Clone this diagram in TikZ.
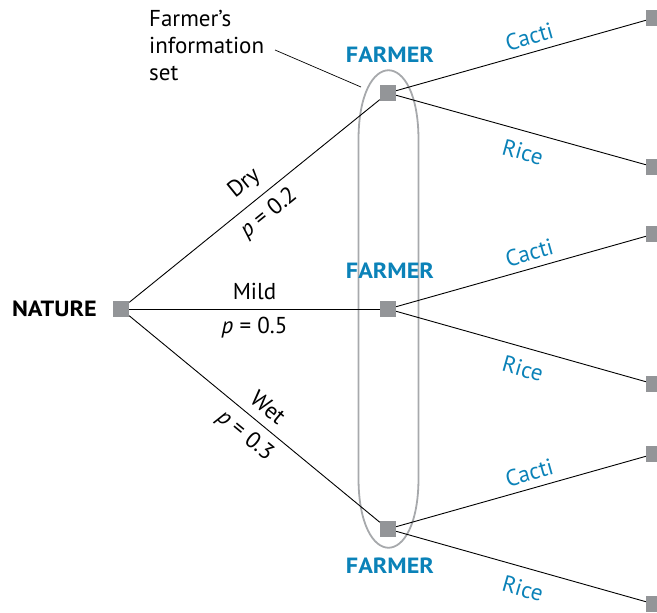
\documentclass[tikz,border=0pt]{standalone}
\usepackage{fontspec}
\setmainfont{PT Sans}
\newfontfamily\widesans{PT Sans}[FakeStretch=1.1]
\definecolor{fblue}{RGB}{11,130,184}
\definecolor{boxgray}{RGB}{147,149,152}
\definecolor{ellgray}{RGB}{167,169,172}
\begin{document}
\begin{tikzpicture}[x=1pt,y=-1pt,
  gbox/.style={fill=boxgray,minimum size=16pt,inner sep=0pt},
  edge/.style={draw=black,line width=0.9pt},
  lab/.style={font=\fontsize{23}{27}\selectfont,inner sep=0pt},
  blab/.style={font=\fontsize{23}{27}\selectfont,text=fblue,inner sep=0pt},
  who/.style={font=\fontsize{22}{26}\selectfont\widesans\bfseries,text=fblue,inner sep=0pt}]
\useasboundingbox (0,0) rectangle (657,613);
% information set
\draw[ellgray,line width=1.8pt] (358.5,140) .. controls (358.5,47) and (418.5,47) .. (418.5,140)
  -- (418.5,478) .. controls (418.5,571) and (358.5,571) .. (358.5,478) -- cycle;
\node[gbox] (N) at (121,309) {};
\node[gbox] (F1) at (388,93) {};
\node[gbox] (F2) at (388,309) {};
\node[gbox] (F3) at (388,529) {};
\node[gbox] (T1) at (654,18) {};
\node[gbox] (T2) at (654,167) {};
\node[gbox] (T3) at (654,234) {};
\node[gbox] (T4) at (654,384) {};
\node[gbox] (T5) at (654,454) {};
\node[gbox] (T6) at (654,604) {};
\node[font=\fontsize{22}{26}\selectfont\widesans\bfseries,anchor=east,inner sep=0pt] (NL) at (97,309) {NATURE};
\node[who] (FL1) at (390,55) {FARMER};
\node[who] (FL2) at (390,271) {FARMER};
\node[who] (FL3) at (390,566) {FARMER};
\node[lab,anchor=north west,align=left] (IS) at (149,10) {Farmer’s\\information\\set};
\coordinate (ISa) at (275,50);
\coordinate (ISb) at (361,87);
\draw[line width=0.7pt] (ISa) -- (ISb);
\draw[edge] (N) -- node[lab,sloped,above=9pt,pos=0.51] {Dry} node[lab,sloped,below=8pt,pos=0.51] {\textit{p} = 0.2} (F1);
\draw[edge] (N) -- node[lab,above=9pt,pos=0.5] {Mild} node[lab,below=8pt,pos=0.5] {\textit{p} = 0.5} (F2);
\draw[edge] (N) -- node[lab,sloped,above=9pt,pos=0.51] {Wet} node[lab,sloped,below=8pt,pos=0.51] {\textit{p} = 0.3} (F3);
\draw[edge] (F1) -- node[blab,sloped,above=7pt,pos=0.55] {Cacti} (T1);
\draw[edge] (F1) -- node[blab,sloped,below=12pt,pos=0.53] {Rice} (T2);
\draw[edge] (F2) -- node[blab,sloped,above=7pt,pos=0.55] {Cacti} (T3);
\draw[edge] (F2) -- node[blab,sloped,below=12pt,pos=0.53] {Rice} (T4);
\draw[edge] (F3) -- node[blab,sloped,above=7pt,pos=0.55] {Cacti} (T5);
\draw[edge] (F3) -- node[blab,sloped,below=12pt,pos=0.53] {Rice} (T6);
\end{tikzpicture}
\end{document}
